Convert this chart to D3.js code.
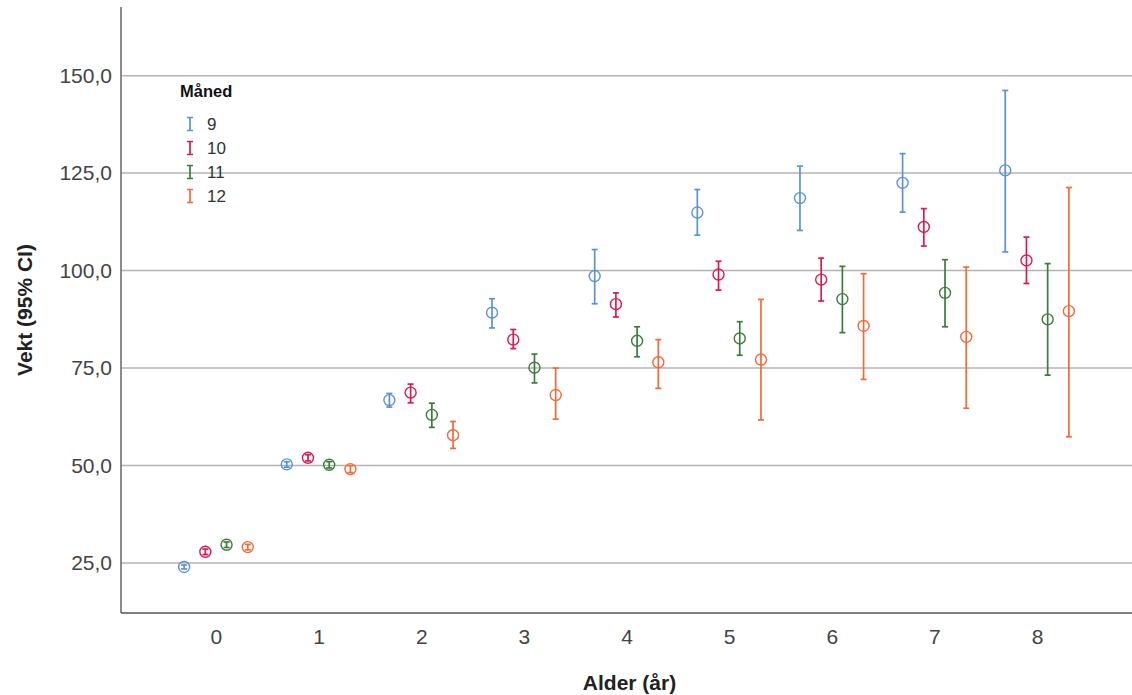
<!DOCTYPE html>
<html>
<head>
<meta charset="utf-8">
<script src="https://cdn.jsdelivr.net/npm/d3@7"></script>
<style>
  html, body { margin: 0; padding: 0; background: #fff; }
  svg { display: block; font-family: "Liberation Sans", Arial, sans-serif; }
</style>
</head>
<body>
<svg id="chart" width="1132" height="695"></svg>
<script>
// ---- data ----
const ages = [0, 1, 2, 3, 4, 5, 6, 7, 8];
const months = ["9", "10", "11", "12"];
const monthColors = ["#5a93d4", "#d81b4f", "#3a7d3a", "#f26a36"];
const yTicks = [25, 50, 75, 100, 125, 150];

const mean9  = [24.0, 50.3, 66.8, 89.2, 98.6, 114.9, 118.6, 122.5, 125.7];
const lo9    = [23.5, 49.6, 65.0, 85.3, 91.5, 109.1, 110.3, 115.0, 104.8];
const hi9    = [24.5, 51.0, 68.5, 92.8, 105.4, 120.8, 126.8, 130.0, 146.2];

const mean10 = [27.9, 52.0, 68.7, 82.3, 91.4, 99.0, 97.7, 111.2, 102.6];
const lo10   = [27.2, 51.2, 66.1, 80.0, 88.1, 95.0, 92.2, 106.3, 96.7];
const hi10   = [28.6, 52.8, 70.9, 84.9, 94.3, 102.4, 103.2, 115.9, 108.6];

const mean11 = [29.7, 50.2, 63.0, 75.1, 82.0, 82.6, 92.7, 94.3, 87.5];
const lo11   = [29.0, 49.4, 59.8, 71.2, 77.9, 78.3, 84.1, 85.6, 73.2];
const hi11   = [30.4, 51.0, 66.0, 78.6, 85.6, 86.9, 101.1, 102.8, 101.8];

const mean12 = [29.1, 49.1, 57.8, 68.1, 76.5, 77.2, 85.8, 83.0, 89.6];
const lo12   = [28.4, 48.2, 54.4, 61.9, 69.8, 61.7, 72.1, 64.7, 57.4];
const hi12   = [29.8, 50.0, 61.3, 75.0, 82.3, 92.6, 99.2, 100.9, 121.3];

const seriesMean = [mean9, mean10, mean11, mean12];
const seriesLo = [lo9, lo10, lo11, lo12];
const seriesHi = [hi9, hi10, hi11, hi12];

const points = [];
months.forEach((m, mi) => {
  ages.forEach((a, ai) => {
    points.push({ age: a, month: m, mi, mean: seriesMean[mi][ai], lo: seriesLo[mi][ai], hi: seriesHi[mi][ai] });
  });
});

// ---- layout ----
const svg = d3.select("#chart");
const pLeft = 121, pRight = 1132, pTop = 7, pBottom = 613;

const x = d3.scalePoint().domain(ages).range([pLeft, pRight]).padding(0.925);
const step = x.step();
const xOff = d3.scalePoint().domain(months).range([-0.31 * step, 0.31 * step]);
const y = d3.scaleLinear().domain([12.2, 167.6]).range([pBottom, pTop]);
const color = d3.scaleOrdinal().domain(months).range(monthColors);
const fmt = v => d3.format(".1f")(v).replace(".", ",");

// gridlines
svg.append("g").selectAll("line").data(yTicks).join("line")
  .attr("x1", pLeft).attr("x2", pRight)
  .attr("y1", d => y(d)).attr("y2", d => y(d))
  .attr("stroke", "#b4b4b4").attr("stroke-width", 1.5);

// y axis
const yAxis = svg.append("g").attr("transform", `translate(${pLeft},0)`)
  .call(d3.axisLeft(y).tickValues(yTicks).tickFormat(fmt).tickSize(0).tickPadding(9));
yAxis.select(".domain").attr("stroke", "#666").attr("stroke-width", 1.5)
  .attr("d", `M0,${pTop}V${pBottom}`);
yAxis.selectAll("text").attr("font-size", 21).attr("fill", "#444")
  .attr("font-family", "Liberation Sans, Arial, sans-serif");

// x axis
const xAxis = svg.append("g").attr("transform", `translate(0,${pBottom})`)
  .call(d3.axisBottom(x).tickSize(0).tickPadding(16));
xAxis.select(".domain").attr("stroke", "#555").attr("stroke-width", 1.5)
  .attr("d", `M${pLeft},0H${pRight}`);
xAxis.selectAll("text").attr("font-size", 21).attr("fill", "#444")
  .attr("font-family", "Liberation Sans, Arial, sans-serif");

// axis titles
svg.append("text").attr("x", (pLeft + pRight) / 2 + 3).attr("y", 690)
  .attr("text-anchor", "middle").attr("font-size", 21).attr("font-weight", "bold")
  .attr("fill", "#222").text("Alder (år)");
svg.append("text").attr("transform", `translate(32,${(pTop + pBottom) / 2}) rotate(-90)`)
  .attr("text-anchor", "middle").attr("font-size", 21).attr("font-weight", "bold")
  .attr("fill", "#222").text("Vekt (95% CI)");

// error bars
const cap = 3;
const g = svg.append("g");
const pts = g.selectAll("g.pt").data(points).join("g").attr("class", "pt")
  .attr("transform", d => `translate(${x(d.age) + xOff(d.month)},0)`);
pts.append("line").attr("x1", 0).attr("x2", 0)
  .attr("y1", d => y(d.lo)).attr("y2", d => y(d.hi))
  .attr("stroke", d => color(d.month)).attr("stroke-width", 1.7);
pts.append("line").attr("x1", -cap).attr("x2", cap)
  .attr("y1", d => y(d.hi)).attr("y2", d => y(d.hi))
  .attr("stroke", d => color(d.month)).attr("stroke-width", 1.7);
pts.append("line").attr("x1", -cap).attr("x2", cap)
  .attr("y1", d => y(d.lo)).attr("y2", d => y(d.lo))
  .attr("stroke", d => color(d.month)).attr("stroke-width", 1.7);
pts.append("circle").attr("cx", 0).attr("cy", d => y(d.mean)).attr("r", 5.5)
  .attr("fill", "none").attr("stroke", d => color(d.month)).attr("stroke-width", 1.4);

// legend
const lg = svg.append("g").attr("transform", "translate(180,0)");
lg.append("text").attr("x", 0).attr("y", 97).attr("font-size", 16.5).attr("font-weight", "bold")
  .attr("fill", "#111").text("Måned");
const items = lg.selectAll("g.item").data(months).join("g").attr("class", "item")
  .attr("transform", (d, i) => `translate(0,${124 + i * 24})`);
items.append("path").attr("d", "M7,-6.5H13M10,-6.5V6.5M7,6.5H13")
  .attr("stroke", d => color(d)).attr("stroke-width", 1.7).attr("fill", "none");
items.append("text").attr("x", 27).attr("y", 6).attr("font-size", 17).attr("fill", "#333")
  .text(d => d);
</script>
</body>
</html>
